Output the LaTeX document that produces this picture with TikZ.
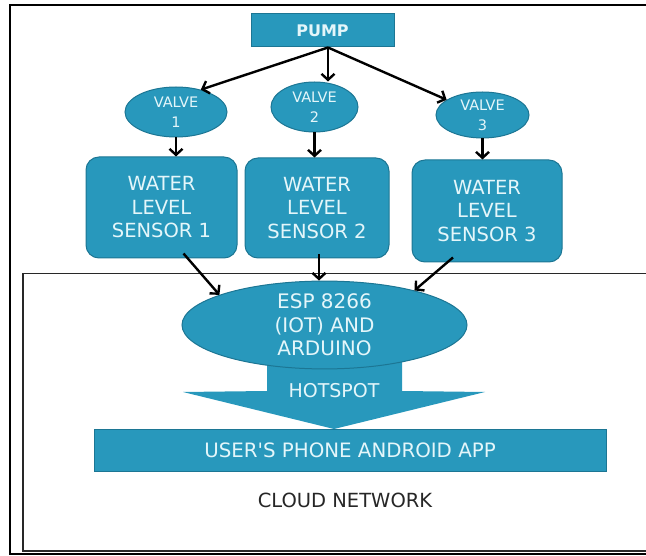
\documentclass[tikz,border=0pt]{standalone}
\usepackage{fontspec}
\setmainfont{DejaVu Sans}[Ligatures=TeXOff]
\usetikzlibrary{arrows.meta,shapes.geometric}
\definecolor{boxfill}{RGB}{40,152,188}
\definecolor{boxline}{RGB}{28,118,148}
\definecolor{boxtext}{RGB}{228,246,250}
\definecolor{frameline}{RGB}{40,40,40}
\begin{document}
\begin{tikzpicture}[x=1pt,y=-1pt,
  box/.style={draw=boxline, line width=1pt, fill=boxfill, text=boxtext, inner sep=0pt, align=center},
  valvebox/.style={box, ellipse, font=\fontsize{14.5}{20}\selectfont},
  sensorbox/.style={box, rounded corners=13pt, font=\fontsize{19.5}{23.5}\selectfont},
  arr/.style={line width=2.4pt, -{Straight Barb[length=6pt,width=13pt]}}
]
\useasboundingbox (0,0) rectangle (646,556);
% outer frame (open at the right)
\draw[line width=2.5pt, black] (646,5) -- (10,5) -- (10,554) -- (646,554);
% cloud network frame
\draw[line width=1.4pt, frameline] (646,273.5) -- (23,273.5) -- (23,551) -- (646,551);

% hotspot block arrow
\fill[boxfill] (267,355) -- (402,355) -- (402,391) -- (485,392) -- (334,429)
  -- (183,392) -- (267,391) -- cycle;

\node[box, minimum width=143pt, minimum height=33pt, font=\bfseries\fontsize{16}{19}\selectfont] (pump) at (322.5,30.5) {PUMP};
\node[valvebox, minimum width=102pt, minimum height=50pt] (v1) at (176,112) {VALVE\\1};
\node[valvebox, minimum width=87pt, minimum height=50pt] (v2) at (314.5,107) {VALVE\\2};
\node[valvebox, minimum width=93pt, minimum height=46pt] (v3) at (482.5,115) {VALVE\\3};

\node[sensorbox, minimum width=151pt, minimum height=101pt] (s1) at (161.5,207.5) {WATER\\LEVEL\\SENSOR 1};
\node[sensorbox, minimum width=144pt, minimum height=100pt] (s2) at (317,208) {WATER\\LEVEL\\SENSOR 2};
\node[sensorbox, minimum width=150pt, minimum height=102pt] (s3) at (487,211) {WATER\\LEVEL\\SENSOR 3};

\node[box, ellipse, minimum width=285pt, minimum height=84pt, font=\fontsize{20}{23.5}\selectfont] (esp) at (324.5,325) {ESP 8266\\(IOT) AND\\ARDUINO};
\node[text=boxtext, inner sep=0pt, font=\fontsize{19}{22}\selectfont] (hot) at (334,391) {HOTSPOT};

\node[box, minimum width=512pt, minimum height=42pt, font=\fontsize{19.8}{23}\selectfont] (app) at (350,450) {USER'S PHONE ANDROID APP};
\node[text=black!85, inner sep=0pt, font=\fontsize{19.5}{23}\selectfont] (cloud) at (345,500) {CLOUD NETWORK};

% connectors
\coordinate (ps) at ([xshift=5.5pt]pump.south);
\draw[arr] (ps) -- (v1.42);
\draw[arr] (ps) -- (ps |- v2.north);
\draw[arr] (ps) -- (v3.157);

\draw[arr] (v1.south) -- (v1.south |- s1.north);
\draw[arr] (v2.south) -- (v2.south |- s2.north);
\draw[arr] (v3.south) -- (v3.south |- s3.north);

\coordinate (s1o) at ([xshift=22pt,yshift=5pt]s1.south);
\coordinate (s2o) at ([xshift=2pt,yshift=4pt]s2.south);
\coordinate (s3o) at ([xshift=-34pt,yshift=5pt]s3.south);
\draw[arr] (s1o) -- (esp.164);
\draw[arr] (s2o) -- (s2o |- esp.north);
\draw[arr] (s3o) -- (esp.21);
\end{tikzpicture}
\end{document}
